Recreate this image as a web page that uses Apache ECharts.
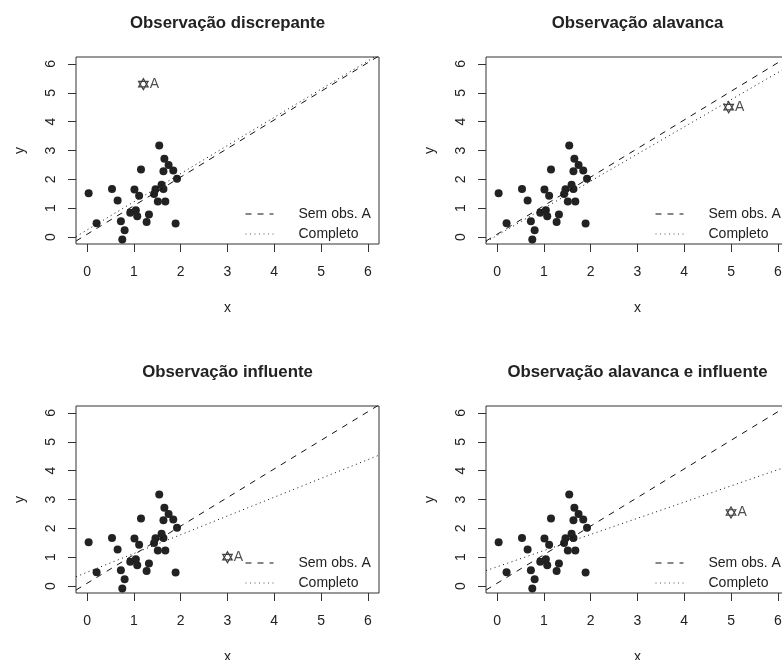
<!DOCTYPE html>
<html>
<head>
<meta charset="utf-8">
<script src="https://cdn.jsdelivr.net/npm/echarts@6/dist/echarts.min.js"></script>
<style>
  html, body { margin: 0; padding: 0; background: #fff; }
  #chart { width: 782px; height: 660px; }
</style>
</head>
<body>
<div id="chart"></div>
<script>
// pontos comuns aos 4 paineis
var xs = [0.03, 0.20, 0.53, 0.65, 0.72, 0.80, 0.75, 0.92, 1.01, 1.04, 1.07, 1.11, 1.15, 1.27,
          1.32, 1.43, 1.46, 1.51, 1.54, 1.59, 1.63, 1.65, 1.63, 1.67, 1.74, 1.84, 1.92, 1.89];
var ys = [1.52, 0.48, 1.67, 1.27, 0.55, 0.24, -0.08, 0.84, 1.65, 0.93, 0.72, 1.43, 2.34, 0.52,
          0.78, 1.49, 1.66, 1.23, 3.17, 1.81, 1.67, 2.71, 2.28, 1.23, 2.50, 2.31, 2.02, 0.47];

// observacao A em cada painel
var titulos = ['Observação discrepante', 'Observação alavanca', 'Observação influente', 'Observação alavanca e influente'];
var aX = [1.2, 4.95, 3.0, 5.0];
var aY = [5.3, 4.5, 1.0, 2.55];

// retas ajustadas: sem obs. A (tracejada) e completo (pontilhada)
var semA_a = [0.1, 0.1, 0.1, 0.1];
var semA_b = [0.99, 0.99, 0.99, 0.99];
var comp_a = [0.25, 0.06, 0.48, 0.67];
var comp_b = [0.975, 0.94, 0.65, 0.56];

var ticks = [0, 1, 2, 3, 4, 5, 6];
var lim = [-0.24, 6.24];

var fonte = "'Liberation Sans', Arial, Helvetica, sans-serif";
var cor = '#222';
var estrela = 'path://M0,-10L8.66,5L-8.66,5Z M0,10L8.66,-5L-8.66,-5Z';
var tracejado = [6, 6];
var pontilhado = [1, 3.5];

var lefts = [76, 486, 76, 486];
var tops = [57, 57, 406, 406];

function reta(a, b) {
  return [[lim[0], a + b * lim[0]], [lim[1], a + b * lim[1]]];
}

var myChart = echarts.init(document.getElementById('chart'));

var grid = [], xAxis = [], yAxis = [], series = [], title = [], legend = [];

for (var i = 0; i < 4; i++) {
  grid.push({
    left: lefts[i], top: tops[i], width: 303, height: 187,
    outerBoundsMode: 'none', containLabel: false,
    show: true, borderColor: '#333', borderWidth: 1, backgroundColor: 'transparent'
  });
  title.push({
    text: titulos[i],
    left: lefts[i] + 151.5 - 5, top: tops[i] - 47,
    textAlign: 'center',
    textStyle: { fontFamily: fonte, fontSize: 16.8, fontWeight: 'bold', color: cor }
  });
  xAxis.push({
    gridIndex: i, type: 'value', min: lim[0], max: lim[1],
    name: 'x', nameLocation: 'middle', nameGap: 57,
    nameTextStyle: { fontFamily: fonte, fontSize: 14, color: cor },
    axisLine: { show: false, onZero: false },
    axisTick: { show: true, inside: false, length: 8, lineStyle: { color: '#333' }, customValues: ticks },
    axisLabel: { customValues: ticks, margin: 21, fontFamily: fonte, fontSize: 14, color: cor },
    splitLine: { show: false }
  });
  yAxis.push({
    gridIndex: i, type: 'value', min: lim[0], max: lim[1],
    name: 'y', nameLocation: 'middle', nameGap: 49, nameRotate: 90,
    nameTextStyle: { fontFamily: fonte, fontSize: 14, color: cor },
    axisLine: { show: false, onZero: false },
    axisTick: { show: true, inside: false, length: 8, lineStyle: { color: '#333' }, customValues: ticks },
    axisLabel: { customValues: ticks, rotate: 90, margin: 18, fontFamily: fonte, fontSize: 14, color: cor },
    splitLine: { show: false }
  });

  var pts = [];
  for (var k = 0; k < xs.length; k++) pts.push([xs[k], ys[k]]);

  series.push({
    name: 'pontos' + i, type: 'scatter', xAxisIndex: i, yAxisIndex: i,
    data: pts, symbolSize: 8, itemStyle: { color: cor, opacity: 1 }, silent: true
  });
  series.push({
    name: 'Sem obs. A', type: 'line', xAxisIndex: i, yAxisIndex: i,
    data: reta(semA_a[i], semA_b[i]), symbol: 'none', showSymbol: false, clip: true,
    itemStyle: { color: '#111' },
    lineStyle: { color: '#111', width: 1, type: tracejado }, silent: true
  });
  series.push({
    name: 'Completo', type: 'line', xAxisIndex: i, yAxisIndex: i,
    data: reta(comp_a[i], comp_b[i]), symbol: 'none', showSymbol: false, clip: true,
    itemStyle: { color: '#111' },
    lineStyle: { color: '#111', width: 1, type: pontilhado }, silent: true
  });
  series.push({
    name: 'obsA' + i, type: 'scatter', xAxisIndex: i, yAxisIndex: i,
    data: [[aX[i], aY[i]]], symbol: estrela, symbolSize: 11, symbolKeepAspect: true,
    itemStyle: { color: 'rgba(0,0,0,0)', borderColor: '#111', borderWidth: 1.2 },
    label: { show: true, position: 'right', distance: 1, formatter: 'A',
             fontFamily: fonte, fontSize: 14, color: '#222' },
    silent: true
  });

  legend.push({
    data: [
      { name: 'Sem obs. A', lineStyle: { type: tracejado, width: 1 } },
      { name: 'Completo', lineStyle: { type: pontilhado, width: 1, color: '#555' } }
    ],
    orient: 'vertical', left: lefts[i] + 169 - 5, top: tops[i] + 150 - 5,
    itemWidth: 28, itemHeight: 14, itemGap: 6,
    selectedMode: false,
    itemStyle: { opacity: 0 },
    textStyle: { fontFamily: fonte, fontSize: 14, color: cor, padding: [0, 0, 0, 20] }
  });
}

var option = {
  backgroundColor: '#fff',
  animation: false,
  title: title,
  legend: legend,
  grid: grid,
  xAxis: xAxis,
  yAxis: yAxis,
  series: series
};

myChart.setOption(option);
</script>
</body>
</html>
